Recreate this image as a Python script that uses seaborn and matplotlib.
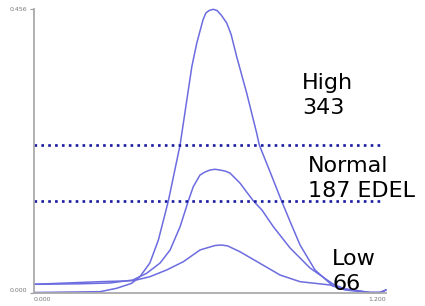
import numpy as np
import pandas as pd
import matplotlib
matplotlib.use("Agg")
import matplotlib.pyplot as plt
import seaborn as sns

# curve values (x in 0..1.2, density in 0..0.456)
high_x = [0.000, 0.225, 0.282, 0.333, 0.361, 0.395, 0.424, 0.458, 0.498, 0.521, 0.538,
          0.555, 0.576, 0.586, 0.597, 0.611, 0.624, 0.638, 0.657, 0.672, 0.691, 0.725,
          0.759, 0.768, 0.805, 0.844, 0.875, 0.907, 0.958, 1.019, 1.061, 1.145, 1.180, 1.200]
high_y = [0.000, 0.0013, 0.0068, 0.0148, 0.0254, 0.0475, 0.0844, 0.1472, 0.2373, 0.3096, 0.3632,
          0.4013, 0.4383, 0.4496, 0.4536, 0.4555, 0.4536, 0.4464, 0.4335, 0.4150, 0.3793, 0.3209,
          0.2566, 0.2373, 0.1938, 0.1472, 0.1120, 0.0764, 0.0362, 0.0105, 0.0040, 0.000, 0.000, 0.004]

normal_x = [0.000, 0.157, 0.259, 0.337, 0.384, 0.430, 0.464, 0.498, 0.526, 0.543, 0.566,
            0.583, 0.600, 0.617, 0.634, 0.651, 0.668, 0.702, 0.748, 0.777, 0.816, 0.873,
            0.941, 1.019, 1.061, 1.145, 1.180, 1.200]
normal_y = [0.0132, 0.0140, 0.0153, 0.0201, 0.0309, 0.0475, 0.0684, 0.1058, 0.1472, 0.1702, 0.1890,
            0.1938, 0.1970, 0.1982, 0.1970, 0.1954, 0.1922, 0.1761, 0.1472, 0.1327, 0.1058, 0.0716,
            0.0394, 0.0137, 0.0056, 0.000, 0.000, 0.004]

low_x = [0.000, 0.225, 0.339, 0.395, 0.452, 0.509, 0.566, 0.600, 0.617, 0.640, 0.661,
         0.675, 0.702, 0.770, 0.839, 0.907, 1.009, 1.061, 1.145, 1.180, 1.200]
low_y = [0.0132, 0.0174, 0.0190, 0.0254, 0.0362, 0.0495, 0.0684, 0.0732, 0.0756, 0.0764, 0.0748,
         0.0716, 0.0656, 0.0470, 0.0281, 0.0174, 0.0121, 0.0056, 0.000, 0.000, 0.004]

thresholds = [0.2373, 0.1472]
labels = ["High\n343", "Normal\n187 EDEL", "Low\n66"]
x_ticks = [0.0, 1.2]
x_tick_labels = ["0.000", "1.200"]
y_ticks = [0.0, 0.456]
y_tick_labels = ["0.000", "0.456"]

df = pd.concat([
    pd.DataFrame({"x": high_x, "y": high_y, "group": "High"}),
    pd.DataFrame({"x": normal_x, "y": normal_y, "group": "Normal"}),
    pd.DataFrame({"x": low_x, "y": low_y, "group": "Low"}),
])

sns.set_theme(style="white")
plt.rcParams['font.family'] = ['DejaVu Sans']

fig = plt.figure(figsize=(4.25, 3.06), dpi=100)
ax = fig.add_axes([34 / 425, 1 - 292.5 / 306, 352 / 425, 283.5 / 306])

curve_col = "#6c6ce0"
sns.lineplot(data=df, x="x", y="y", hue="group", palette=[curve_col] * 3,
             estimator=None, sort=False, linewidth=1.1, legend=False, ax=ax)
for ln in ax.lines:
    ln.set_clip_on(False)
    ln.set_solid_joinstyle("round")

for t in thresholds:
    ax.hlines(t, 0, 1.19, colors="#1a1a9e", linestyles=(0, (1, 1.6)), linewidth=1.9)

ax.set_xlim(0, 1.2)
ax.set_ylim(0, 0.456)
ax.set_xticks(x_ticks)
ax.set_yticks(y_ticks)
ax.set_xticklabels(x_tick_labels, fontsize=4.5, color="#777777")
ax.set_yticklabels(y_tick_labels, fontsize=4.5, color="#777777")
xl = ax.get_xticklabels()
xl[0].set_ha("left")
xl[1].set_ha("right")
yl = ax.get_yticklabels()
yl[0].set_va("bottom")
ax.tick_params(axis="x", length=0, pad=3)
ax.tick_params(axis="y", length=3, width=0.8, color="#999999", pad=2, left=True)
ax.set_xlabel("")
ax.set_ylabel("")
for s in ["top", "right"]:
    ax.spines[s].set_visible(False)
for s in ["left", "bottom"]:
    ax.spines[s].set_color("#aaaaaa")
    ax.spines[s].set_linewidth(1.3)

txt_pos = [(302, 73), (308, 156), (332, 249)]
for (px, py), lab in zip(txt_pos, labels):
    fig.text(px / 425, 1 - py / 306, lab, fontsize=16, color="black",
             ha="left", va="top", linespacing=1.3)

fig.savefig("out.png", dpi=100, facecolor="white")
